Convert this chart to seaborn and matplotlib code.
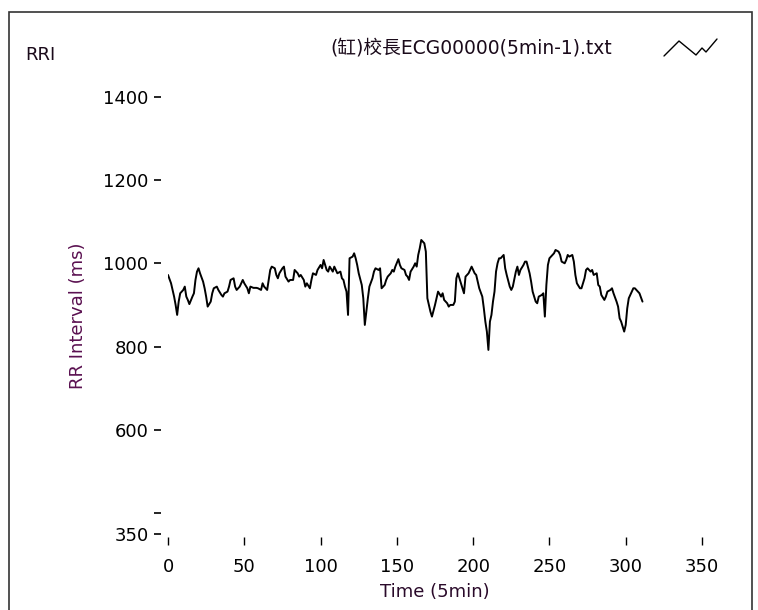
import matplotlib
matplotlib.use("Agg")
import matplotlib.pyplot as plt
import pandas as pd
import seaborn as sns
from matplotlib.lines import Line2D
from matplotlib.patches import Rectangle


# -----------------------------
# Data (beat index, RR interval in ms)
# -----------------------------
beats = [0, 2, 4, 5, 6, 7, 8, 10, 11, 12, 13, 14, 16, 17, 18, 19, 20, 21, 23, 24,
         25, 26, 28, 29, 30, 32, 33, 35, 36, 37, 39, 40, 41, 43, 44, 45, 47, 49, 50, 52,
         53, 54, 56, 58, 59, 61, 62, 63, 65, 66, 67, 68, 70, 71, 72, 73, 75, 76, 77, 79,
         80, 82, 83, 85, 86, 87, 89, 90, 91, 93, 94, 95, 97, 98, 100, 101, 102, 104, 105, 106,
         108, 109, 110, 111, 113, 114, 115, 116, 117, 118, 119, 121, 122, 123, 124, 125, 127, 128, 129, 130,
         131, 132, 134, 135, 136, 138, 139, 140, 142, 143, 144, 146, 147, 148, 149, 151, 152, 153, 155, 156,
         157, 158, 159, 161, 162, 163, 164, 165, 166, 168, 169, 170, 171, 172, 173, 175, 176, 177, 179, 180,
         181, 183, 184, 185, 187, 188, 189, 190, 191, 193, 194, 195, 197, 198, 199, 201, 202, 203, 204, 206,
         207, 208, 209, 210, 211, 212, 213, 214, 215, 216, 217, 218, 220, 221, 222, 224, 225, 226, 228, 229,
         230, 231, 233, 234, 235, 237, 238, 239, 241, 242, 243, 245, 246, 247, 248, 249, 250, 252, 253, 254,
         256, 257, 258, 260, 261, 262, 263, 265, 266, 267, 268, 270, 271, 273, 274, 275, 277, 278, 279, 281,
         282, 283, 284, 286, 287, 288, 290, 291, 292, 294, 295, 296, 297, 299, 300, 301, 302, 304, 305, 306,
         308, 309, 311]

rri = [972, 952, 920, 900, 876, 908, 928, 936, 944, 920, 912, 902, 920, 928, 960, 980, 988, 976, 956, 940,
       920, 896, 908, 928, 940, 944, 936, 924, 920, 928, 932, 944, 960, 964, 944, 936, 944, 960, 952, 940,
       928, 944, 941, 941, 940, 936, 952, 944, 936, 960, 984, 992, 988, 972, 964, 976, 988, 992, 968, 956,
       960, 960, 984, 976, 968, 972, 960, 944, 952, 940, 960, 976, 972, 984, 996, 988, 1008, 984, 980, 992,
       980, 992, 984, 976, 980, 964, 960, 944, 932, 876, 1012, 1016, 1024, 1012, 996, 976, 948, 916, 852, 884,
       916, 944, 964, 980, 988, 984, 988, 940, 948, 960, 968, 976, 984, 980, 992, 1010, 996, 988, 984, 972,
       968, 960, 980, 992, 1000, 992, 1020, 1036, 1056, 1048, 1028, 916, 900, 884, 872, 900, 916, 932, 920, 928,
       912, 904, 896, 900, 900, 908, 964, 976, 964, 940, 928, 968, 976, 984, 992, 976, 972, 956, 940, 920,
       892, 860, 836, 792, 860, 876, 908, 932, 980, 1000, 1012, 1012, 1020, 988, 972, 944, 936, 944, 980, 992,
       972, 984, 996, 1004, 1004, 976, 956, 932, 908, 904, 920, 924, 928, 872, 948, 996, 1012, 1020, 1024, 1032,
       1028, 1020, 1004, 1000, 1008, 1020, 1016, 1020, 1004, 972, 952, 940, 940, 964, 984, 988, 980, 984, 972, 976,
       948, 944, 924, 912, 920, 932, 936, 940, 928, 908, 896, 868, 860, 836, 852, 892, 916, 932, 940, 940,
       932, 928, 908]

y_ticks = [350, 600, 800, 1000, 1200, 1400]
x_ticks = [0, 50, 100, 150, 200, 250, 300, 350]

file_name = "(缸)校長ECG00000(5min-1).txt"

df = pd.DataFrame({"beat": beats, "rri": rri})

# -----------------------------
# Figure
# -----------------------------
sns.set_style("white")
plt.rcParams["font.family"] = ["DejaVu Sans", "Noto Sans CJK TC"]

W, H = 758, 610
fig = plt.figure(figsize=(W / 100, H / 100), dpi=100)

x0, x1 = 168, 702
y_top, y_bot = 96.7, 534
ax = fig.add_axes([x0 / W, 1 - y_bot / H, (x1 - x0) / W, (y_bot - y_top) / H])

sns.lineplot(data=df, x="beat", y="rri", ax=ax, color="black", linewidth=1.4)

ax.set_xlim(0, 350)
ax.set_ylim(350, 1400)
ax.set_xticks(x_ticks)
ax.set_yticks(y_ticks)
ax.set_yticks([400], minor=True)

for s in ["top", "right", "left", "bottom"]:
    ax.spines[s].set_visible(False)
ax.spines["left"].set_position(("outward", 5))
ax.spines["bottom"].set_position(("outward", 2))

fs = 13
ax.tick_params(axis="y", which="both", left=True, direction="out", length=5, width=1.2,
               pad=4, labelsize=fs, colors="black")
ax.tick_params(axis="x", bottom=True, direction="out", length=6, width=1.0,
               pad=9, labelsize=fs, colors="black")

ax.set_xlabel("Time (5min)", fontsize=fs, color="#2a0a2a", labelpad=5)
ax.set_ylabel("RR Interval (ms)", fontsize=fs, color="#5a1050", labelpad=12)

# LabVIEW style header
fig.text(25 / W, 1 - 55 / H, "RRI", fontsize=fs, va="center", ha="left", color="#1a0a1a")
fig.text(612 / W, 1 - 48 / H, file_name, fontsize=fs + 0.5, va="center", ha="right", color="#1a0a1a",
         family=["DejaVu Sans", "Noto Sans CJK TC"])

# plot legend glyph
zx = [664, 679, 696, 702, 706, 717]
zy = [56, 41, 55, 48, 52, 39]
fig.add_artist(Line2D([v / W for v in zx], [1 - v / H for v in zy], transform=fig.transFigure,
                      color="black", linewidth=1.0))

# panel frame
fig.add_artist(Rectangle((9 / W, -0.02), (752 - 9) / W, 1 - 12 / H + 0.02, transform=fig.transFigure,
                         fill=False, edgecolor="#333333", linewidth=1.2))

fig.savefig("out.png", dpi=100)
